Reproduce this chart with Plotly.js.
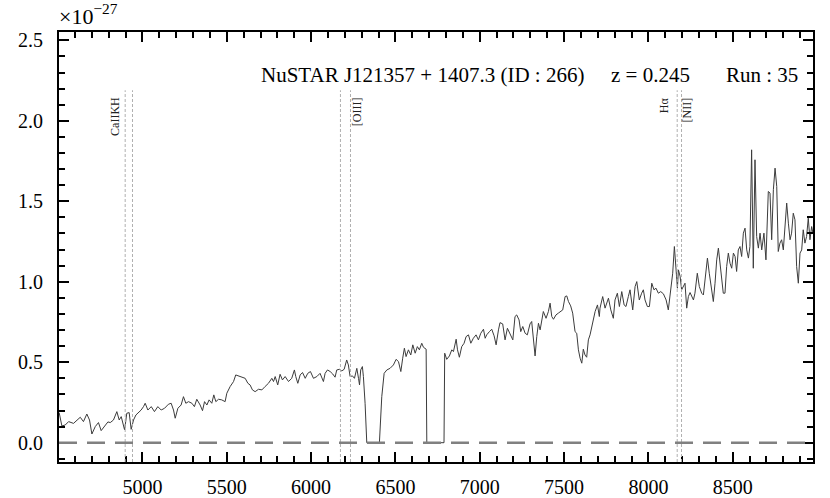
<!DOCTYPE html>
<html>
<head>
<meta charset="utf-8">
<script src="https://cdn.plot.ly/plotly-3.0.1.min.js"></script>
<style>html,body{margin:0;padding:0;background:#fff;}#chart{width:830px;height:498px;}</style>
</head>
<body>
<div id="chart"></div>
<script>
// Observed wavelength (Angstrom)
const wavelength = [
4506,4522,4542,4562,4591,4611,4631,4650,4670,4686,4700,4720,4739,4755,4775,4795,4809,4828,4848,4862,
4874,4894,4907,4921,4933,4947,4961,4977,4992,5006,5016,5032,5052,5071,5091,5111,5131,5154,5170,5184,
5194,5210,5229,5243,5257,5273,5293,5308,5322,5342,5356,5368,5382,5395,5411,5423,5435,5451,5470,5490,
5500,5520,5540,5553,5569,5589,5609,5625,5638,5652,5668,5688,5708,5727,5747,5767,5777,5787,5802,5816,
5830,5846,5866,5885,5901,5909,5921,5935,5949,5965,5980,5996,6014,6034,6053,6073,
6083,6097,6113,6128,6142,6152,6168,6182,6196,6211,6221,6231,6245,6257,6271,6281,6287,6294,6304,6310,
6320,6330,6405,6419,6433,6449,6468,6488,6504,6518,6532,6543,6553,6563,6577,6591,6603,6617,6630,6642,
6656,6666,6682,6686,6788,6792,6804,6820,6834,6844,6860,6868,6879,6893,6907,6919,6933,6947,6962,6978,
6992,7006,7022,7032,7041,7057,7071,7085,7097,7111,7120,7136,7150,7164,7180,7196,7209,7219,7233,7243,
7255,7269,7282,7298,7308,7318,7328,7338,7348,7358,7368,7377,7393,7407,7417,7427,7437,7452,7466,7480,
7492,7506,7516,7526,7539,7551,7565,7575,7585,7595,7605,7614,7624,7634,7644,7654,7670,7684,7698,7709,
7713,7729,7743,7753,7763,7777,7792,7802,7816,7828,7842,7856,7867,7881,7891,7907,7921,7931,7946,7960,
7970,7980,7994,8006,8020,8033,8045,8059,8073,8089,8105,8118,8132,8144,8154,8164,8172,8178,8188,8197,
8207,8217,8227,8237,8247,8257,8267,8276,8290,8302,8316,8326,8340,8350,8361,8375,8385,8395,8405,8415,
8425,8435,8444,8454,8464,8474,8484,8494,8504,8514,8523,8533,8543,8553,8563,8573,8583,8593,8602,8612,
8622,8632,8642,8652,8662,8672,8678,8685,8697,8711,8721,8731,8741,8751,8761,8770,8780,8790,8800,8810,
8820,8830,8840,8849,8859,8869,8879,8889,8899,8909,8918,8928,8938,8948,8958,8968,8976
];
// Flux density (units of 1e-27)
const flux = [
0.187,0.104,0.110,0.131,0.120,0.141,0.158,0.131,0.178,0.141,0.054,0.100,0.125,0.075,0.100,0.129,0.125,0.141,0.193,0.141,
0.162,0.079,0.183,0.187,0.083,0.141,0.172,0.187,0.203,0.224,0.245,0.203,0.224,0.193,0.224,0.203,0.214,0.239,0.245,0.203,
0.152,0.214,0.234,0.286,0.245,0.255,0.245,0.224,0.270,0.234,0.199,0.255,0.234,0.266,0.245,0.297,0.255,0.270,0.266,0.255,
0.307,0.349,0.380,0.421,0.415,0.411,0.400,0.369,0.359,0.328,0.317,0.332,0.328,0.349,0.369,0.400,0.380,0.411,0.359,0.425,
0.390,0.411,0.380,0.400,0.452,0.411,0.369,0.421,0.436,0.400,0.431,0.442,0.400,0.411,0.431,0.380,
0.431,0.452,0.442,0.427,0.407,0.452,0.456,0.446,0.456,0.514,0.483,0.411,0.415,0.400,0.462,0.400,0.359,0.452,0.473,0.411,
0.245,0.0,0.0,0.286,0.431,0.452,0.462,0.483,0.518,0.504,0.442,0.525,0.587,0.535,0.577,0.545,0.608,0.556,0.597,0.577,
0.618,0.593,0.581,0.0,0.0,0.556,0.518,0.539,0.577,0.566,0.643,0.577,0.531,0.597,0.618,0.659,0.670,0.618,0.649,0.670,
0.639,0.680,0.705,0.649,0.670,0.690,0.705,0.664,0.608,0.701,0.746,0.738,0.639,0.711,0.670,0.639,0.784,0.794,0.763,0.690,
0.722,0.680,0.670,0.738,0.753,0.649,0.539,0.659,0.742,0.701,0.763,0.815,0.773,0.815,0.867,0.784,0.767,0.794,0.805,0.815,
0.825,0.908,0.912,0.877,0.850,0.805,0.690,0.680,0.577,0.525,0.494,0.581,0.545,0.531,0.639,0.670,0.742,0.815,0.856,0.784,
0.836,0.908,0.836,0.867,0.898,0.825,0.773,0.887,0.929,0.846,0.939,0.856,0.846,0.908,0.950,0.825,0.970,1.001,0.887,0.929,
0.950,0.887,0.846,0.846,0.991,0.950,0.960,0.929,0.939,0.925,0.887,0.825,0.950,1.053,1.219,1.095,0.960,1.074,1.033,0.950,
0.970,0.991,0.836,0.908,0.933,0.908,0.887,0.929,1.053,0.970,0.929,0.918,1.053,1.147,1.053,0.960,0.877,0.991,1.136,1.209,
1.115,1.053,0.929,0.929,1.095,1.178,1.115,1.084,1.178,1.157,1.064,1.198,1.219,1.157,1.302,1.333,1.198,1.147,1.219,1.820,
1.084,1.758,1.281,1.209,1.302,1.198,1.240,1.302,1.136,1.561,1.551,1.261,1.572,1.706,1.592,1.188,1.240,1.261,1.198,1.385,
1.489,1.364,1.261,1.302,1.426,1.385,1.095,0.991,1.178,1.198,1.323,1.240,1.281,1.395,1.261,1.343,1.300
];
// Spectral lines (rest wavelengths) and redshift
const redshift = 0.245;
const lineRest = [3933.7, 3968.5, 4958.9, 5006.8, 6562.8, 6583.4];
const lineLabels = ["CaIIKH", "[OIII]", "H\u03b1", "[NII]"];
const lineLabelX = [4833, 6270, 8093, 8228];
const xTickVals = [5000, 5500, 6000, 6500, 7000, 7500, 8000, 8500];
const yTickVals = [0.0, 0.5, 1.0, 1.5, 2.0, 2.5];
const titleParts = ["NuSTAR J121357 + 1407.3 (ID : 266)", "z = 0.245", "Run : 35"];
const offsetText = "\u00d710<sup>\u221227</sup>";

const SERIF = "Liberation Serif";
const xRange = [4505, 8976];
const yRange = [-0.12, 2.552];

const shapes = [];
lineRest.forEach(r => {
  const xo = r * (1 + redshift);
  shapes.push({type: 'line', xref: 'x', yref: 'y', x0: xo, x1: xo, y0: yRange[0], y1: 2.19,
    line: {color: '#b0b0b0', width: 1, dash: '3px,2px'}});
});
shapes.push({type: 'line', xref: 'paper', yref: 'y', x0: 0, x1: 1, y0: 0, y1: 0,
  line: {color: '#808080', width: 2.5, dash: '18px,10px'}});

const annotations = [];
lineLabels.forEach((t, i) => {
  annotations.push({x: lineLabelX[i], y: 2.16, xref: 'x', yref: 'y', text: t, textangle: -90,
    showarrow: false, xanchor: 'center', yanchor: 'top', font: {family: SERIF, size: 12, color: '#222'}});
});
const titleRight = [0.699, 0.8395, 0.983];
titleParts.forEach((t, i) => {
  annotations.push({x: titleRight[i], y: 0.9, xref: 'paper', yref: 'paper', text: t, showarrow: false,
    xanchor: 'right', yanchor: 'middle', font: {family: SERIF, size: 21, color: '#000'}});
});

const trace = {x: wavelength, y: flux, type: 'scatter', mode: 'lines',
  line: {color: '#3c3c3c', width: 1}, hoverinfo: 'skip'};

const layout = {
  width: 830, height: 498,
  margin: {l: 59, r: 17, t: 32, b: 36, autoexpand: false},
  showlegend: false,
  font: {family: SERIF, size: 16, color: '#000'},
  title: {text: offsetText, x: 0, xref: 'paper', xanchor: 'left', y: 0.968, yref: 'container', yanchor: 'middle',
    font: {family: SERIF, size: 22, color: '#000'}},
  xaxis: {
    range: xRange, tickmode: 'array', tickvals: xTickVals, ticktext: xTickVals.map(String),
    showline: true, linecolor: '#000', linewidth: 2, mirror: 'ticks',
    ticks: 'inside', ticklen: 10, tickwidth: 2, tickcolor: '#000',
    showgrid: false, zeroline: false, ticklabelstandoff: 6,
    tickfont: {family: SERIF, size: 20, color: '#000'},
    minor: {ticks: 'inside', dtick: 100, tick0: 5000, ticklen: 6, tickwidth: 1.5, tickcolor: '#000'}
  },
  yaxis: {
    range: yRange, tickmode: 'array', tickvals: yTickVals, ticktext: yTickVals.map(v => v.toFixed(1)),
    showline: true, linecolor: '#000', linewidth: 2, mirror: 'ticks',
    ticks: 'inside', ticklen: 10, tickwidth: 2, tickcolor: '#000',
    showgrid: false, zeroline: false, ticklabelstandoff: 10,
    tickfont: {family: SERIF, size: 20, color: '#000'},
    minor: {ticks: 'inside', dtick: 0.1, tick0: 0, ticklen: 6, tickwidth: 1.5, tickcolor: '#000'}
  },
  shapes: shapes,
  annotations: annotations
};

Plotly.newPlot('chart', [trace], layout, {displayModeBar: false});
</script>
</body>
</html>
